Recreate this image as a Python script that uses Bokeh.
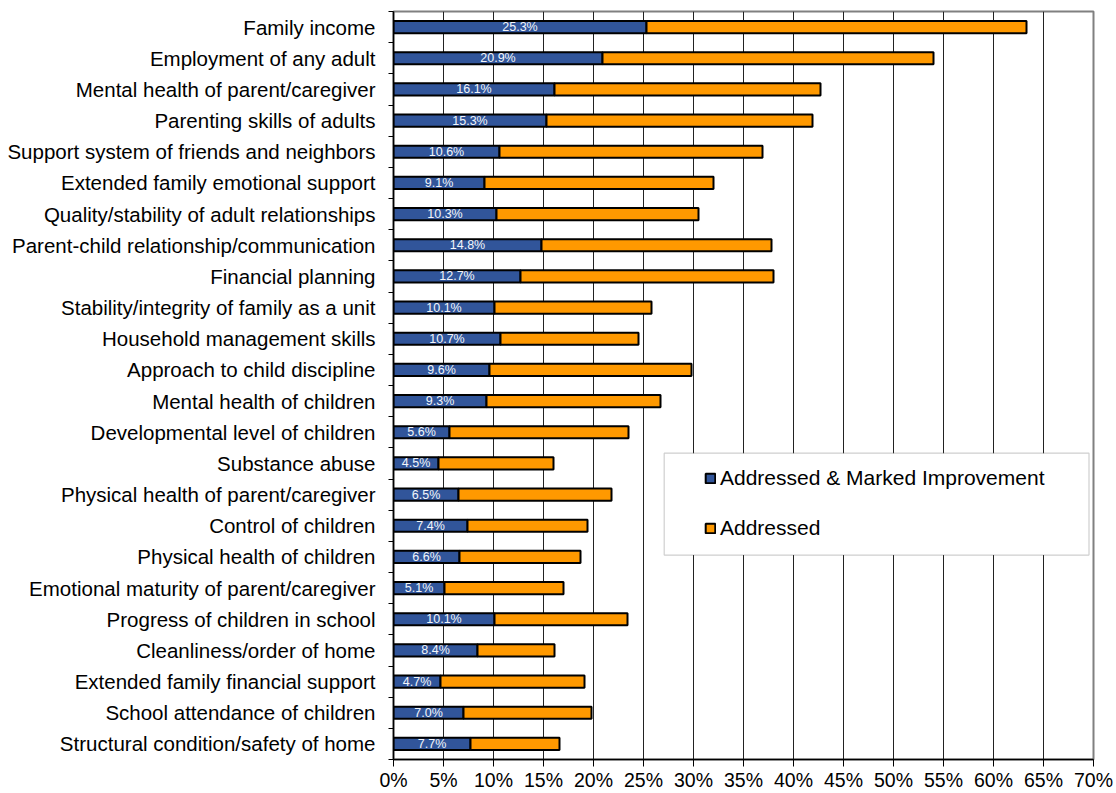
from bokeh.plotting import figure
from bokeh.models import (Range1d, FixedTicker, Legend, LegendItem, BoxAnnotation,
                          ColumnDataSource)
from bokeh.core.properties import value
from bokeh.embed import file_html
from bokeh.resources import INLINE

# Areas of family functioning, listed top to bottom
categories = [
    "Family income",
    "Employment of any adult",
    "Mental health of parent/caregiver",
    "Parenting skills of adults",
    "Support system of friends and neighbors",
    "Extended family emotional support",
    "Quality/stability of adult relationships",
    "Parent-child relationship/communication",
    "Financial planning",
    "Stability/integrity of family as a unit",
    "Household management skills",
    "Approach to child discipline",
    "Mental health of children",
    "Developmental level of children",
    "Substance abuse",
    "Physical health of parent/caregiver",
    "Control of children",
    "Physical health of children",
    "Emotional maturity of parent/caregiver",
    "Progress of children in school",
    "Cleanliness/order of home",
    "Extended family financial support",
    "School attendance of children",
    "Structural condition/safety of home",
]

# Percent of families: addressed with marked improvement
marked_improvement = [25.3, 20.9, 16.1, 15.3, 10.6, 9.1, 10.3, 14.8, 12.7, 10.1, 10.7, 9.6,
                      9.3, 5.6, 4.5, 6.5, 7.4, 6.6, 5.1, 10.1, 8.4, 4.7, 7.0, 7.7]

# Percent of families: addressed (remaining share, stacked after the first series)
addressed = [38.0, 33.1, 26.6, 26.6, 26.3, 22.9, 20.2, 23.0, 25.3, 15.7, 13.8, 20.2,
             17.4, 17.9, 11.5, 15.3, 12.0, 12.1, 11.9, 13.3, 7.7, 14.4, 12.8, 8.9]

x_ticks = [0, 5, 10, 15, 20, 25, 30, 35, 40, 45, 50, 55, 60, 65, 70]
x_tick_labels = ["0%", "5%", "10%", "15%", "20%", "25%", "30%", "35%",
                 "40%", "45%", "50%", "55%", "60%", "65%", "70%"]

FONT = "Liberation Sans"
BLUE = "#31559A"
ORANGE = "#FF9900"

n = len(categories)
ypos = [n - i - 0.5 for i in range(n)]
totals = [m + a for m, a in zip(marked_improvement, addressed)]

src = ColumnDataSource(dict(
    y=ypos,
    marked=marked_improvement,
    total=totals,
    mid=[m / 2 for m in marked_improvement],
    lbl=[f"{m:.1f}%" for m in marked_improvement],
))

p = figure(width=1116, height=793, output_backend="svg", toolbar_location=None,
           x_range=Range1d(0, 70), y_range=Range1d(0, n),
           min_border_left=393, min_border_right=23, min_border_top=11, min_border_bottom=34)

p.outline_line_color = "#808080"
p.outline_line_width = 2
p.background_fill_color = "white"
p.border_fill_color = "white"

# x axis (percent)
p.xaxis.ticker = FixedTicker(ticks=x_ticks)
p.xaxis.major_label_overrides = {t: s for t, s in zip(x_ticks, x_tick_labels)}
p.xaxis.major_label_text_font = FONT
p.xaxis.major_label_text_font_size = "19.5px"
p.xaxis.major_label_text_color = "black"
p.xaxis.axis_line_color = "black"
p.xaxis.axis_line_width = 1.5
p.xaxis.major_tick_line_color = "black"
p.xaxis.major_tick_out = 7
p.xaxis.major_tick_in = 0
p.xaxis.minor_tick_line_color = None
p.xaxis.major_label_standoff = 2

# y axis: names at band centres, tick marks at band boundaries
p.yaxis.ticker = FixedTicker(ticks=ypos, minor_ticks=list(range(n + 1)))
p.yaxis.major_label_overrides = {y: c for y, c in zip(ypos, categories)}
p.yaxis.major_label_text_font = FONT
p.yaxis.major_label_text_font_size = "20.5px"
p.yaxis.major_label_text_color = "black"
p.yaxis.axis_line_color = "black"
p.yaxis.axis_line_width = 1.5
p.yaxis.major_tick_line_color = None
p.yaxis.major_tick_out = 0
p.yaxis.major_tick_in = 0
p.yaxis.minor_tick_line_color = "black"
p.yaxis.minor_tick_out = 5
p.yaxis.minor_tick_in = 0
p.yaxis.major_label_standoff = 13

p.xgrid.ticker = FixedTicker(ticks=x_ticks)
p.xgrid.grid_line_color = "#222222"
p.xgrid.grid_line_width = 1
p.ygrid.grid_line_color = None

bar_h = 0.39
r_blue = p.hbar(y="y", left=0, right="marked", height=bar_h, source=src,
                fill_color=BLUE, line_color="black", line_width=2)
r_orange = p.hbar(y="y", left="marked", right="total", height=bar_h, source=src,
                  fill_color=ORANGE, line_color="black", line_width=2)

p.text(x="mid", y="y", text="lbl", source=src, text_align="center", text_baseline="middle",
       text_font=value(FONT), text_font_size="12.5px", text_color="#F2F5FA")

# legend frame
p.add_layout(BoxAnnotation(left=27.07, right=69.55, bottom=6.56, top=9.83,
                           fill_color="white", fill_alpha=1.0,
                           line_color="#606060", line_width=1.2))

legend = Legend(items=[
    LegendItem(label="Addressed & Marked Improvement", renderers=[r_blue]),
    LegendItem(label="Addressed", renderers=[r_orange]),
], location=(311, 219))
legend.padding = 0
legend.margin = 0
legend.spacing = 26
legend.glyph_width = 12
legend.glyph_height = 12
legend.label_height = 24
legend.label_standoff = 4
legend.label_text_font = FONT
legend.label_text_font_size = "21px"
legend.label_text_color = "black"
legend.border_line_alpha = 0
legend.background_fill_alpha = 0
p.add_layout(legend)

open("out.html", "w").write(file_html(p, INLINE))
